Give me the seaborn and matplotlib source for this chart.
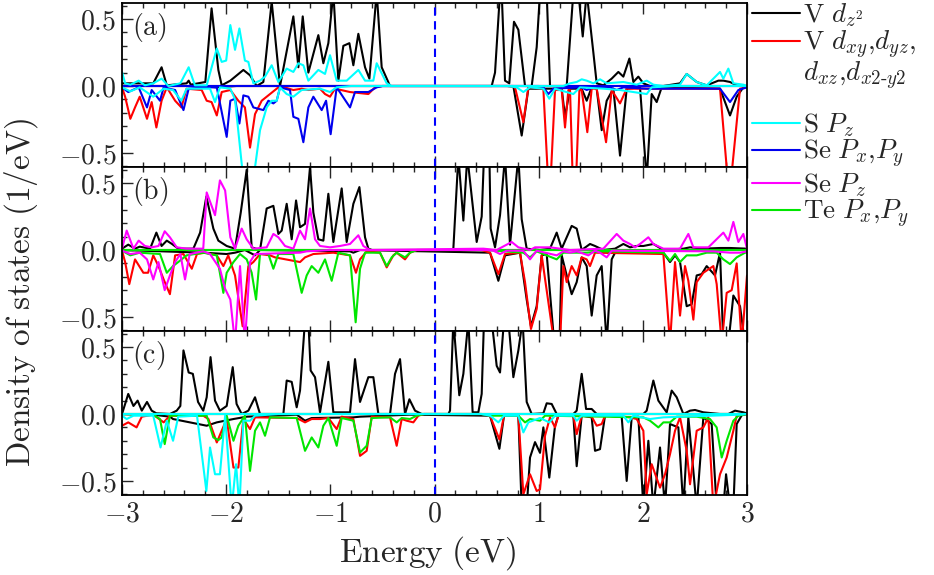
import matplotlib
matplotlib.use('Agg')
import matplotlib.pyplot as plt
import seaborn as sns
from matplotlib.lines import Line2D
from matplotlib.ticker import MultipleLocator, FixedLocator, FuncFormatter

# ---------------- data: (energy eV, DOS 1/eV) vertices ----------------
a_black_up = [(-3.0,0.02),(-2.70,0.02),(-2.62,0.14),(-2.57,0.005),(-2.38,0.02),(-2.36,0.04),(-2.34,0.01),(-2.20,0.03),(-2.14,0.58),(-2.075,0.12),(-2.043,0.005),(-1.96,0.04),(-1.835,0.12),(-1.771,0.08),(-1.707,0.0),(-1.643,0.03),(-1.563,0.63),(-1.483,0.0),(-1.355,0.52),(-1.307,0.14),(-1.265,0.52),(-1.211,0.10),(-1.115,0.38),(-1.067,0.17),(-1.019,0.32),(-0.971,0.7),(-0.923,0.04),(-0.875,0.30),(-0.817,0.32),(-0.779,0.155),(-0.731,0.39),(-0.667,0.14),(-0.625,0.055),(-0.555,0.7),(-0.507,0.14),(-0.427,0.0),(0.549,0.0),(0.581,0.1),(0.629,0.7),(0.645,0.7),(0.677,0.04),(0.718,0.02),(0.763,0.48),(0.805,0.42),(0.869,0.0),(0.933,0.0),(0.981,0.29),(1.013,0.7),(1.077,0.7),(1.109,0.0),(1.269,0.0),(1.333,0.7),(1.381,0.7),(1.423,0.37),(1.461,0.7),(1.525,0.25),(1.557,0.02),(1.621,0.005),(1.701,0.055),(1.765,0.105),(1.813,0.07),(1.871,0.205),(1.909,0.03),(1.957,0.07),(2.005,0.02),(2.069,0.0),(2.197,0.0),(2.357,0.02),(2.421,0.09),(2.517,0.03),(2.613,0.005),(2.725,0.04),(2.773,0.04),(2.837,0.03),(2.901,0.005),(3.0,0.0)]
a_black_dn = [(-3.0,0.0),(-2.2,0.0),(-2.1,-0.01),(-1.9,0.0),(0.757,0.0),(0.837,-0.37),(0.901,-0.02),(1.221,-0.02),(1.253,-0.23),(1.301,-0.02),(1.413,-0.02),(1.461,-0.11),(1.509,-0.01),(1.557,-0.02),(1.605,-0.33),(1.653,-0.11),(1.717,-0.02),(1.781,-0.52),(1.845,-0.02),(1.973,-0.01),(2.037,-0.7),(2.085,-0.06),(2.133,-0.12),(2.181,-0.01),(2.741,-0.02),(2.837,-0.22),(2.901,-0.08),(2.965,-0.01),(3.0,0.0)]
a_red_dn = [(-3.0,-0.01),(-2.97,-0.08),(-2.92,-0.245),(-2.875,-0.16),(-2.83,-0.08),(-2.76,-0.245),(-2.715,-0.12),(-2.67,-0.31),(-2.62,-0.11),(-2.57,-0.01),(-2.49,-0.11),(-2.43,-0.16),(-2.38,-0.02),(-2.235,-0.03),(-2.187,-0.11),(-2.14,-0.12),(-2.09,-0.22),(-2.043,-0.045),(-1.96,-0.03),(-1.883,-0.11),(-1.82,-0.16),(-1.771,-0.46),(-1.723,-0.21),(-1.659,-0.11),(-1.579,-0.06),(-1.515,-0.02),(-1.483,0.0),(-1.355,-0.03),(-1.275,-0.02),(-1.211,-0.03),(-1.099,-0.02),(-1.051,-0.06),(-1.003,-0.08),(-0.955,-0.02),(-0.811,-0.045),(-0.635,-0.06),(-0.571,-0.01),(-0.5,0.0),(0.7,0.0),(0.773,-0.01),(0.853,-0.27),(0.901,-0.01),(1.045,-0.02),(1.09,-0.7),(1.115,-0.7),(1.157,-0.03),(1.221,-0.03),(1.253,-0.31),(1.285,-0.03),(1.301,-0.03),(1.327,-0.7),(1.359,-0.7),(1.391,-0.03),(1.413,-0.03),(1.467,-0.345),(1.509,-0.02),(1.557,-0.02),(1.647,-0.42),(1.701,-0.03),(1.781,-0.13),(1.845,-0.02),(2.741,-0.02),(2.815,-0.7),(2.847,-0.7),(2.933,-0.02),(3.0,-0.01)]
a_cyan_up = [(-3.0,0.105),(-2.97,0.02),(-2.92,0.01),(-2.84,0.04),(-2.78,0.005),(-2.70,0.02),(-2.62,0.055),(-2.555,0.0),(-2.44,0.02),(-2.36,0.14),(-2.30,0.005),(-2.187,0.005),(-2.09,0.28),(-2.043,0.18),(-2.00,0.19),(-1.96,0.455),(-1.915,0.27),(-1.873,0.43),(-1.82,0.19),(-1.787,0.18),(-1.739,0.02),(-1.675,0.04),(-1.627,0.07),(-1.563,0.155),(-1.499,0.03),(-1.419,0.13),(-1.355,0.105),(-1.307,0.17),(-1.259,0.155),(-1.211,0.04),(-1.115,0.12),(-1.051,0.09),(-1.003,0.23),(-0.939,0.04),(-0.843,0.04),(-0.731,0.12),(-0.667,0.04),(-0.587,0.04),(-0.555,0.17),(-0.459,0.02),(-0.411,0.0),(1.237,0.0),(1.301,0.02),(1.365,0.03),(1.413,0.05),(1.461,0.04),(1.525,0.02),(1.589,0.05),(1.653,0.02),(1.813,0.03),(1.941,0.01),(2.037,0.04),(2.101,0.01),(2.197,0.0),(2.357,0.01),(2.421,0.09),(2.517,0.03),(2.613,0.005),(2.741,0.105),(2.773,0.055),(2.821,0.13),(2.869,0.02),(2.965,0.01),(3.0,0.0)]
a_cyan_dn = [(-3.0,-0.01),(-2.92,-0.04),(-2.83,-0.01),(-2.70,-0.08),(-2.60,-0.02),(-2.51,-0.03),(-2.43,-0.11),(-2.38,-0.02),(-2.155,-0.02),(-2.107,-0.12),(-2.06,-0.01),(-1.96,-0.02),(-1.915,-0.10),(-1.835,-0.7),(-1.739,-0.7),(-1.675,-0.33),(-1.611,-0.16),(-1.563,-0.11),(-1.515,-0.11),(-1.483,-0.01),(-1.419,-0.06),(-1.355,-0.08),(-1.275,-0.03),(-1.099,-0.02),(-1.003,-0.045),(-0.939,-0.01),(-0.8,0.0),(0.7,0.0),(0.789,-0.01),(0.853,-0.045),(0.917,-0.01),(1.045,-0.02),(1.102,-0.095),(1.157,-0.02),(1.333,-0.06),(1.397,-0.01),(1.621,-0.02),(1.781,-0.03),(2.037,-0.06),(2.085,-0.01),(2.3,0.0),(3.0,0.0)]
a_blue_dn = [(-3.0,-0.01),(-2.94,-0.045),(-2.84,-0.01),(-2.76,-0.16),(-2.715,-0.03),(-2.635,-0.11),(-2.60,-0.01),(-2.49,-0.03),(-2.41,-0.18),(-2.36,-0.02),(-2.22,-0.01),(-2.09,-0.01),(-1.995,-0.38),(-1.96,-0.11),(-1.915,-0.095),(-1.873,-0.28),(-1.835,-0.07),(-1.787,-0.08),(-1.739,-0.16),(-1.643,-0.18),(-1.595,-0.11),(-1.547,-0.13),(-1.515,-0.11),(-1.483,-0.01),(-1.387,-0.03),(-1.355,-0.23),(-1.307,-0.245),(-1.259,-0.42),(-1.211,-0.16),(-1.163,-0.08),(-1.083,-0.18),(-1.041,-0.11),(-0.997,-0.36),(-0.939,-0.01),(-0.811,-0.16),(-0.763,-0.045),(-0.635,-0.045),(-0.555,-0.01),(-0.5,0.0),(1.0,0.0),(1.045,-0.01),(1.093,-0.06),(1.141,-0.02),(1.413,-0.01),(1.461,-0.03),(1.525,-0.01),(1.685,-0.01),(1.749,-0.03),(1.813,-0.01),(2.037,-0.02),(2.741,-0.02),(2.837,-0.12),(2.917,-0.03),(3.0,-0.01)]

b_black_up = [(-3.0,0.01),(-2.94,0.04),(-2.875,0.01),(-2.83,0.025),(-2.73,0.01),(-2.67,0.13),(-2.62,0.03),(-2.57,0.07),(-2.52,0.045),(-2.46,0.01),(-2.315,0.01),(-2.25,0.13),(-2.19,0.40),(-2.123,0.16),(-2.075,0.07),(-1.995,0.03),(-1.915,0.01),(-1.86,0.28),(-1.803,0.6),(-1.755,0.02),(-1.675,0.0),(-1.611,0.31),(-1.547,0.33),(-1.499,0.12),(-1.467,0.145),(-1.419,0.345),(-1.371,0.08),(-1.329,0.37),(-1.291,0.17),(-1.243,0.195),(-1.195,0.62),(-1.163,0.28),(-1.115,0.08),(-1.067,0.07),(-1.019,0.42),(-0.971,0.06),(-0.891,0.46),(-0.843,0.06),(-0.779,0.345),(-0.721,0.47),(-0.667,0.095),(-0.635,0.01),(-0.6,0.0),(0.149,0.0),(0.181,0.01),(0.229,0.7),(0.277,0.22),(0.315,0.7),(0.405,0.06),(0.453,0.25),(0.475,0.7),(0.527,0.7),(0.539,0.16),(0.581,0.02),(0.629,0.26),(0.677,0.7),(0.725,0.04),(0.805,0.7),(0.837,0.23),(0.885,0.01),(1.013,0.0),(1.109,0.01),(1.173,0.13),(1.221,0.01),(1.317,0.18),(1.365,0.16),(1.413,0.0),(1.493,0.045),(1.541,0.03),(1.621,0.0),(1.733,0.01),(1.813,0.045),(1.877,0.02),(1.941,0.03),(2.005,0.03),(2.101,0.045),(2.197,0.0),(2.389,0.01),(2.453,0.02),(2.581,0.01),(2.741,0.015),(2.837,0.015),(3.0,0.01)]
b_black_dn = [(-3.0,0.0),(-2.22,-0.02),(-1.995,-0.03),(-1.915,-0.02),(-1.82,0.0),(-1.723,-0.04),(-1.675,0.0),(-0.811,-0.01),(-0.779,-0.02),(-0.715,0.0),(0.533,-0.02),(0.613,-0.23),(0.677,-0.04),(0.821,-0.02),(0.885,-0.37),(0.926,-0.57),(0.981,-0.42),(1.029,-0.04),(1.077,-0.03),(1.15,-0.7),(1.20,-0.7),(1.221,-0.04),(1.269,-0.19),(1.317,-0.33),(1.365,-0.24),(1.413,-0.055),(1.461,-0.12),(1.509,-0.49),(1.557,-0.19),(1.605,-0.12),(1.653,-0.7),(1.701,-0.07),(1.733,-0.02),(2.197,-0.02),(2.261,-0.09),(2.309,-0.04),(2.357,-0.09),(2.421,-0.42),(2.469,-0.405),(2.517,-0.19),(2.565,-0.18),(2.613,-0.12),(2.693,-0.19),(2.741,-0.02),(2.773,-0.7),(2.821,-0.7),(2.869,-0.34),(2.933,-0.42),(2.981,-0.7),(3.0,-0.7)]
b_red_dn = [(-3.0,-0.005),(-2.97,-0.09),(-2.93,-0.255),(-2.875,-0.07),(-2.795,-0.17),(-2.75,-0.17),(-2.70,-0.04),(-2.65,-0.12),(-2.60,-0.22),(-2.54,-0.33),(-2.49,-0.04),(-2.41,-0.03),(-2.33,-0.14),(-2.28,-0.03),(-2.203,-0.02),(-2.09,-0.04),(-2.027,-0.12),(-1.98,-0.04),(-1.915,-0.19),(-1.842,-0.57),(-1.787,-0.12),(-1.739,-0.09),(-1.675,-0.03),(-1.579,-0.04),(-1.531,-0.055),(-1.291,-0.09),(-1.243,-0.055),(-1.163,-0.03),(-0.971,-0.02),(-0.811,-0.04),(-0.754,-0.17),(-0.715,-0.07),(-0.651,-0.01),(-0.523,-0.02),(-0.459,-0.13),(-0.395,-0.04),(-0.363,-0.02),(-0.283,-0.07),(-0.235,-0.02),(-0.171,0.0),(0.45,0.0),(0.533,-0.02),(0.613,-0.18),(0.677,-0.03),(0.821,-0.02),(0.869,-0.24),(0.926,-0.59),(0.981,-0.44),(1.029,-0.04),(1.15,-0.7),(1.205,-0.7),(1.237,-0.12),(1.269,-0.24),(1.317,-0.12),(1.365,-0.19),(1.413,-0.055),(1.461,-0.07),(1.493,-0.12),(1.541,-0.02),(2.197,-0.03),(2.261,-0.7),(2.309,-0.09),(2.357,-0.49),(2.405,-0.12),(2.437,-0.23),(2.485,-0.52),(2.517,-0.24),(2.581,-0.17),(2.677,-0.12),(2.709,-0.255),(2.757,-0.7),(2.805,-0.32),(2.853,-0.3),(2.901,-0.1),(2.949,-0.7),(3.0,-0.19)]
b_green_dn = [(-3.0,-0.005),(-2.92,-0.04),(-2.83,-0.02),(-2.635,-0.03),(-2.57,-0.17),(-2.51,-0.12),(-2.46,-0.09),(-2.38,-0.04),(-2.22,-0.02),(-2.09,-0.04),(-2.027,-0.32),(-1.995,-0.17),(-1.93,-0.09),(-1.867,-0.03),(-1.803,-0.07),(-1.755,-0.17),(-1.713,-0.37),(-1.675,-0.03),(-1.595,-0.03),(-1.547,-0.14),(-1.499,-0.03),(-1.355,-0.03),(-1.275,-0.32),(-1.227,-0.19),(-1.179,-0.12),(-1.115,-0.17),(-1.051,-0.07),(-0.987,-0.23),(-0.923,-0.02),(-0.811,-0.04),(-0.757,-0.54),(-0.715,-0.14),(-0.667,-0.02),(-0.523,-0.02),(-0.459,-0.12),(-0.411,-0.055),(-0.363,-0.02),(-0.283,-0.055),(-0.235,-0.02),(-0.171,0.0),(0.5,0.0),(0.853,-0.02),(0.917,-0.055),(0.981,-0.01),(1.173,-0.07),(1.237,-0.02),(1.461,-0.02),(1.621,-0.01),(2.197,-0.02),(2.261,-0.08),(2.309,-0.03),(2.357,-0.09),(2.421,-0.04),(2.517,-0.04),(2.613,-0.02),(2.709,-0.02),(2.773,-0.07),(2.837,-0.105),(2.901,-0.055),(2.981,-0.02),(3.0,-0.02)]
b_mag_up = [(-3.0,0.01),(-2.955,0.145),(-2.89,0.01),(-2.84,0.07),(-2.78,0.03),(-2.715,0.02),(-2.65,0.03),(-2.59,0.14),(-2.54,0.095),(-2.475,0.02),(-2.38,0.01),(-2.22,0.01),(-2.187,0.43),(-2.107,0.26),(-2.06,0.52),(-2.01,0.445),(-1.96,0.095),(-1.915,0.01),(-1.851,0.16),(-1.803,0.08),(-1.739,0.01),(-1.611,0.02),(-1.547,0.12),(-1.499,0.095),(-1.435,0.03),(-1.355,0.01),(-1.291,0.145),(-1.243,0.08),(-1.195,0.31),(-1.147,0.08),(-1.099,0.03),(-1.003,0.02),(-0.907,0.03),(-0.811,0.045),(-0.731,0.11),(-0.683,0.03),(-0.619,0.0),(0.469,0.01),(0.597,0.0),(0.741,0.06),(0.805,0.02),(0.917,0.0),(0.965,0.02),(1.109,0.02),(1.301,0.0),(1.621,0.01),(1.749,0.12),(1.813,0.07),(1.877,0.045),(1.925,0.02),(1.973,0.045),(2.053,0.095),(2.101,0.045),(2.197,0.01),(2.357,0.01),(2.437,0.12),(2.485,0.02),(2.629,0.02),(2.773,0.13),(2.821,0.07),(2.869,0.21),(2.917,0.06),(2.965,0.12),(3.0,0.01)]
b_mag_dn = [(-3.0,-0.005),(-2.92,-0.03),(-2.83,-0.02),(-2.76,-0.07),(-2.70,-0.22),(-2.65,-0.09),(-2.59,-0.30),(-2.54,-0.19),(-2.49,-0.09),(-2.44,-0.03),(-2.395,-0.22),(-2.35,-0.03),(-2.22,-0.01),(-2.155,-0.03),(-2.06,-0.14),(-2.01,-0.29),(-1.96,-0.37),(-1.915,-0.7),(-1.867,-0.12),(-1.82,-0.7),(-1.771,-0.09),(-1.723,-0.03),(-1.291,-0.02),(-1.227,-0.01),(-1.0,0.0),(0.5,0.0),(0.565,-0.005),(0.629,-0.03),(0.693,-0.005),(0.853,-0.005),(0.917,-0.07),(0.981,-0.005),(1.173,-0.04),(1.237,-0.01),(1.301,-0.02),(1.365,-0.01),(1.477,-0.04),(1.541,-0.005),(1.589,-0.02),(1.653,-0.055),(1.701,-0.005),(2.677,-0.01),(2.837,-0.02),(2.933,-0.02),(3.0,-0.01)]

c_black_up = [(-3.0,0.0),(-2.99,0.025),(-2.94,0.15),(-2.89,0.06),(-2.85,0.10),(-2.81,0.025),(-2.76,0.09),(-2.715,0.025),(-2.67,0.005),(-2.54,0.0),(-2.475,0.025),(-2.44,0.06),(-2.41,0.475),(-2.36,0.31),(-2.32,0.30),(-2.27,0.09),(-2.22,0.025),(-2.187,0.125),(-2.15,0.425),(-2.107,0.10),(-2.06,0.025),(-1.995,0.06),(-1.937,0.35),(-1.90,0.075),(-1.851,0.0),(-1.787,0.025),(-1.723,0.125),(-1.675,0.0),(-1.451,0.0),(-1.419,0.25),(-1.371,0.24),(-1.323,0.05),(-1.291,0.175),(-1.243,0.7),(-1.211,0.7),(-1.189,0.325),(-1.147,0.275),(-1.099,0.0125),(-1.019,0.39),(-0.971,0.0125),(-0.811,0.0125),(-0.763,0.41),(-0.715,0.09),(-0.635,0.275),(-0.587,0.275),(-0.539,0.0),(-0.427,0.0),(-0.379,0.30),(-0.331,0.41),(-0.283,0.0),(-0.241,0.11),(-0.187,0.025),(-0.123,0.0),(0.133,0.0),(0.149,0.025),(0.181,0.7),(0.238,0.14),(0.277,0.30),(0.325,0.7),(0.366,0.0125),(0.421,0.0125),(0.453,0.15),(0.475,0.7),(0.549,0.7),(0.597,0.36),(0.629,0.31),(0.667,0.7),(0.709,0.7),(0.757,0.275),(0.805,0.475),(0.846,0.7),(0.885,0.09),(0.933,0.0),(1.045,0.005),(1.077,0.08),(1.125,0.075),(1.173,0.0),(1.333,0.0),(1.365,0.025),(1.413,0.30),(1.455,0.0375),(1.509,0.0375),(1.557,0.0),(2.005,0.0),(2.037,0.025),(2.101,0.25),(2.149,0.10),(2.229,0.0125),(2.277,0.175),(2.325,0.125),(2.389,0.0),(2.453,0.025),(2.501,0.03),(2.581,0.0125),(2.677,0.005),(2.741,0.0),(2.821,0.0),(2.885,0.025),(2.965,0.0125),(3.0,0.005)]
c_black_dn = [(-3.0,0.0),(-2.70,-0.005),(-2.54,-0.02),(-2.51,-0.0375),(-2.187,-0.0875),(-2.09,-0.0625),(-1.93,-0.0375),(-1.803,-0.02),(-1.323,-0.005),(-1.243,-0.05),(-1.179,-0.03),(-0.779,-0.025),(-0.715,-0.02),(-0.235,-0.005),(0.533,-0.0125),(0.623,-0.26),(0.667,-0.0125),(0.805,-0.0125),(0.837,-0.7),(0.885,-0.7),(0.917,-0.325),(0.965,-0.21),(1.013,-0.29),(1.045,-0.1),(1.102,-0.475),(1.157,-0.0875),(1.189,-0.0125),(1.333,-0.0125),(1.365,-0.39),(1.413,-0.0125),(1.509,-0.025),(1.541,-0.275),(1.589,-0.2625),(1.637,-0.0125),(1.797,-0.02),(1.845,-0.5),(1.893,-0.025),(1.957,-0.02),(2.005,-0.7),(2.053,-0.2),(2.101,-0.7),(2.165,-0.25),(2.213,-0.7),(2.261,-0.075),(2.341,-0.1),(2.389,-0.7),(2.437,-0.025),(2.485,-0.425),(2.517,-0.7),(2.581,-0.025),(2.661,-0.075),(2.709,-0.7),(2.773,-0.7),(2.799,-0.45),(2.837,-0.7),(2.869,-0.7),(2.901,-0.075),(2.949,-0.01),(3.0,0.0)]
c_red_dn = [(-3.0,-0.0875),(-2.94,-0.0625),(-2.86,-0.10),(-2.81,-0.02),(-2.70,-0.005),(-2.60,-0.0625),(-2.54,-0.0125),(-2.22,-0.0125),(-2.17,-0.0375),(-2.09,-0.2125),(-2.043,-0.125),(-1.995,-0.0375),(-1.93,-0.40),(-1.883,-0.40),(-1.835,-0.0375),(-1.771,-0.1125),(-1.723,-0.025),(-1.323,-0.03),(-1.243,-0.0625),(-1.179,-0.0375),(-1.099,-0.0375),(-1.019,-0.03),(-0.939,-0.1125),(-0.891,-0.02),(-0.779,-0.0375),(-0.715,-0.3125),(-0.651,-0.275),(-0.603,-0.02),(-0.427,-0.025),(-0.363,-0.2375),(-0.315,-0.0375),(-0.267,-0.05),(-0.203,-0.0625),(-0.155,-0.0125),(-0.1,0.0),(0.45,0.0),(0.533,-0.0125),(0.623,-0.19),(0.667,-0.0125),(0.805,-0.0125),(0.853,-0.6),(0.917,-0.45),(0.981,-0.575),(1.013,-0.5625),(1.061,-0.1625),(1.109,-0.025),(1.157,-0.1),(1.189,-0.0125),(1.333,-0.0125),(1.365,-0.15),(1.413,-0.0125),(1.509,-0.02),(1.557,-0.0875),(1.605,-0.075),(1.637,-0.0125),(1.813,-0.02),(1.877,-0.025),(1.941,-0.0375),(2.005,-0.125),(2.037,-0.6),(2.085,-0.375),(2.165,-0.55),(2.213,-0.45),(2.261,-0.3),(2.309,-0.125),(2.357,-0.025),(2.421,-0.275),(2.453,-0.525),(2.517,-0.125),(2.581,-0.10),(2.629,-0.025),(2.677,-0.7),(2.741,-0.45),(2.805,-0.325),(2.869,-0.125),(2.901,-0.0125),(2.965,-0.005),(3.0,0.0)]
c_green_dn = [(-3.0,0.0),(-2.70,-0.005),(-2.635,-0.0375),(-2.59,-0.225),(-2.54,-0.0125),(-2.187,-0.0125),(-2.123,-0.175),(-2.075,-0.195),(-2.043,-0.175),(-1.995,-0.0125),(-1.93,-0.20),(-1.883,-0.0875),(-1.82,-0.0125),(-1.771,-0.425),(-1.723,-0.125),(-1.675,-0.0625),(-1.627,-0.1625),(-1.579,-0.025),(-1.323,-0.03),(-1.243,-0.275),(-1.179,-0.175),(-1.115,-0.25),(-1.067,-0.0875),(-1.019,-0.03),(-0.939,-0.2375),(-0.891,-0.03),(-0.779,-0.05),(-0.715,-0.2875),(-0.651,-0.2375),(-0.603,-0.03),(-0.427,-0.025),(-0.363,-0.0625),(-0.315,-0.03),(-0.235,-0.0375),(-0.171,-0.0125),(-0.1,0.0),(0.45,0.0),(0.533,-0.0125),(0.805,-0.0125),(0.869,-0.0625),(0.917,-0.0375),(1.013,-0.05),(1.061,-0.0125),(2.005,-0.025),(2.069,-0.05),(2.149,-0.1),(2.197,-0.0625),(2.261,-0.0625),(2.325,-0.02),(2.517,-0.02),(2.645,-0.0375),(2.709,-0.1),(2.757,-0.325),(2.805,-0.2),(2.869,-0.05),(2.917,-0.0125),(3.0,0.0)]
c_cyan_dn = [(-3.0,-0.0125),(-2.955,-0.0375),(-2.89,-0.0125),(-2.70,-0.0125),(-2.63,-0.25),(-2.57,-0.05),(-2.51,-0.20),(-2.46,-0.02),(-2.28,-0.0125),(-2.19,-0.575),(-2.155,-0.25),(-2.107,-0.45),(-2.06,-0.45),(-2.01,-0.0125),(-1.947,-0.7),(-1.905,-0.375),(-1.873,-0.7),(-1.835,-0.05),(-1.771,-0.05),(-1.723,-0.0125),(-1.5,0.0),(0.45,0.0),(0.533,-0.0125),(0.613,-0.0625),(0.667,-0.0125),(0.805,-0.0125),(0.853,-0.1375),(0.901,-0.0625),(1.013,-0.03),(1.102,-0.0625),(1.157,-0.0125),(1.333,-0.0125),(1.365,-0.05),(1.413,-0.0125),(1.813,-0.0125),(1.861,-0.0625),(1.909,-0.0125),(2.069,-0.0375),(2.197,-0.025),(2.933,-0.005),(3.0,0.0)]

# near-zero (flat) spin-up channels of the minor orbitals
flat_channel = [(-3.0, 0.0), (3.0, 0.0)]

panel_tags = ['(a)', '(b)', '(c)']
x_ticks = [-3, -2, -1, 0, 1, 2, 3]
y_ticks = [-0.5, 0.0, 0.5]
legend_labels = [r'$\mathrm{V}\ d_{z^2}$', r'$\mathrm{V}\ d_{xy}{,}d_{yz}{,}$',
                 r'$d_{xz}{,}d_{x2\text{-}y2}$', r'$\mathrm{S}\ P_z$',
                 r'$\mathrm{Se}\ P_x{,}P_y$', r'$\mathrm{Se}\ P_z$', r'$\mathrm{Te}\ P_x{,}P_y$']

BLACK, RED, CYAN, BLUE, MAGENTA, GREEN = '#000000', '#ff0000', '#00ffff', '#0000ee', '#ff00ff', '#00e600'
legend_colors = [BLACK, RED, 'none', CYAN, BLUE, MAGENTA, GREEN]
legend_rows_px = [15, 45, 76, 125, 154, 185, 214]   # vertical layout of the legend rows

# ---------------- figure ----------------
sns.set_style('ticks')
plt.rcParams['font.family'] = ['DejaVu Serif']
plt.rcParams['mathtext.fontset'] = 'cm'

W, H = 934, 575
fig, axes = plt.subplots(3, 1, figsize=(W / 100, H / 100), dpi=100, sharex=True)
fig.subplots_adjust(left=122 / W, right=747 / W, top=1 - 3 / H, bottom=1 - 495 / H, hspace=0)

LW = 1.5


def draw(ax, pts, color):
    xs = [p[0] for p in pts]
    ys = [p[1] for p in pts]
    sns.lineplot(x=xs, y=ys, ax=ax, color=color, lw=LW, estimator=None,
                 sort=False, legend=False)


panel_series = [
    [(a_black_up, BLACK), (a_black_dn, BLACK), (flat_channel, RED), (a_red_dn, RED),
     (flat_channel, BLUE), (a_blue_dn, BLUE), (a_cyan_dn, CYAN), (a_cyan_up, CYAN)],
    [(b_black_up, BLACK), (b_black_dn, BLACK), (flat_channel, RED), (b_red_dn, RED),
     (flat_channel, GREEN), (b_green_dn, GREEN), (b_mag_dn, MAGENTA), (b_mag_up, MAGENTA)],
    [(c_black_up, BLACK), (c_black_dn, BLACK), (flat_channel, RED), (c_red_dn, RED),
     (flat_channel, GREEN), (c_green_dn, GREEN), (c_cyan_dn, CYAN), (flat_channel, CYAN)],
]

for ax, series, tag in zip(axes, panel_series, panel_tags):
    for pts, col in series:
        draw(ax, pts, col)
    ax.axvline(0, color='#0000ff', lw=LW, ls=(0, (4, 2.6)), zorder=1)
    ax.set_xlim(-3, 3)
    ax.set_ylim(-0.605, 0.62)
    ax.xaxis.set_major_locator(FixedLocator(x_ticks))
    ax.xaxis.set_minor_locator(MultipleLocator(0.2))
    ax.yaxis.set_major_locator(FixedLocator(y_ticks))
    ax.yaxis.set_minor_locator(MultipleLocator(0.1))
    ax.yaxis.set_major_formatter(FuncFormatter(lambda v, p: r'$%.1f$' % v))
    ax.xaxis.set_major_formatter(FuncFormatter(lambda v, p: r'$%d$' % int(round(v))))
    ax.tick_params(which='both', direction='in', top=True, right=False, left=True,
                   bottom=True, width=1.0, labelsize=20, pad=4)
    ax.tick_params(which='major', length=8)
    ax.tick_params(which='minor', length=3.5)
    for s in ax.spines.values():
        s.set_linewidth(1.3)
        s.set_color('black')
    ax.set_xlabel('')
    ax.set_ylabel('')
    ax.text(0.016, 0.95, r'$\mathrm{%s}$' % tag, transform=ax.transAxes,
            fontsize=20, va='top', ha='left')

fig.text(0.022, 1 - 292 / H, r'$\mathrm{Density\ of\ states\ (1/eV)}$', rotation=90,
         ha='center', va='center', fontsize=24)
fig.text(428 / W, 1 - 553 / H, r'$\mathrm{Energy\ (eV)}$', ha='center', va='center', fontsize=24)

FS = 19.5
for lab, col, ypx in zip(legend_labels, legend_colors, legend_rows_px):
    fig.legend([Line2D([], [], color=col, lw=LW)], [lab], loc='center left',
               bbox_to_anchor=(752 / W, 1 - ypx / H), frameon=False, fontsize=FS,
               handlelength=48 / (FS * 100 / 72), handletextpad=0.1,
               borderpad=0, borderaxespad=0)

fig.savefig('out.png', dpi=100)
